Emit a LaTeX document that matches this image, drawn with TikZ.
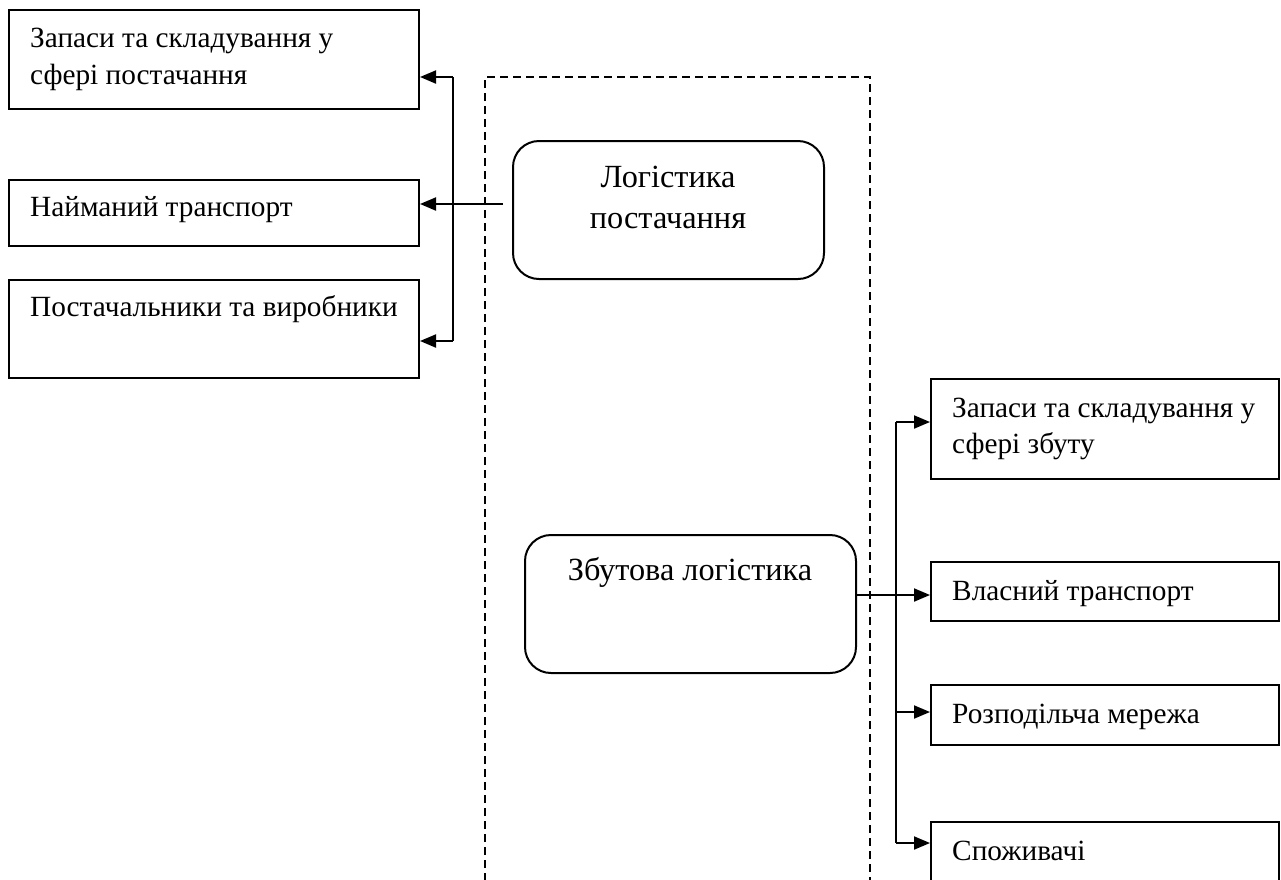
\documentclass[tikz,border=0pt]{standalone}
\usepackage{fontspec}
\setmainfont{Liberation Serif}
\usetikzlibrary{arrows.meta}
\tikzset{
  box/.style={draw, line width=2pt, inner sep=0pt, rectangle},
  rbox/.style={draw, line width=2pt, inner sep=0pt, rounded corners=26pt},
  conn/.style={line width=2pt},
  arr/.style={line width=2pt, -{Triangle[length=16pt,width=13pt]}},
  frame/.style={line width=1.5pt, dash pattern=on 8pt off 5pt},
  txt/.style={inner sep=0pt, font=\fontsize{29.3}{34}\selectfont},
  rtxt/.style={inner sep=0pt, font=\fontsize{32.3}{38}\selectfont}
}
\begin{document}
\begin{tikzpicture}[x=1pt,y=-1pt]
\useasboundingbox (0,0) rectangle (1281,879);
\clip (0,0) rectangle (1281,879);
% dashed frame
\draw[frame] (485,920) -- (485,77) -- (870,77) -- (870,920);
% left boxes
\node[box, minimum width=410pt, minimum height=99pt] (b1) at (214,59.5) {};
\node[box, minimum width=410pt, minimum height=66pt] (b2) at (214,213) {};
\node[box, minimum width=410pt, minimum height=98pt] (b3) at (214,329) {};
\node[txt, anchor=base west] (t1a) at (30,47) {Запаси та складування у};
\node[txt, anchor=base west] (t1b) at (30,84) {сфері постачання};
\node[txt, anchor=base west] (t2) at (30,216) {Найманий транспорт};
\node[txt, anchor=base west] (t3) at (30,316) {Постачальники та виробники};
% rounded boxes
\node[rbox, minimum width=311pt, minimum height=138pt] (L) at (668.5,210) {};
\node[rtxt, anchor=base] (tLa) at (668,187) {Логістика};
\node[rtxt, anchor=base] (tLb) at (668,228) {постачання};
\node[rbox, minimum width=331pt, minimum height=138pt] (Z) at (690.5,604) {};
\node[rtxt, anchor=base] (tZ) at (690,580) {Збутова логістика};
% right boxes
\node[box, minimum width=348pt, minimum height=100pt] (r1) at (1105,429) {};
\node[box, minimum width=348pt, minimum height=59pt] (r2) at (1105,591.5) {};
\node[box, minimum width=348pt, minimum height=60pt] (r3) at (1105,715) {};
\node[box, minimum width=348pt, minimum height=80pt] (r4) at (1105,862) {};
\node[txt, anchor=base west] (s1a) at (952,417) {Запаси та складування у};
\node[txt, anchor=base west] (s1b) at (952,453) {сфері збуту};
\node[txt, anchor=base west] (s2) at (952,600) {Власний транспорт};
\node[txt, anchor=base west] (s3) at (952,723) {Розподільча мережа};
\node[txt, anchor=base west] (s4) at (952,860) {Споживачі};
% left connectors
\coordinate (lv1) at (453,77);
\coordinate (lv3) at (453,341);
\coordinate (ls) at (503,204);
\draw[conn] (lv1) -- (lv3);
\draw[arr] (lv1) -- (lv1 -| b1.east);
\draw[arr] (lv3) -- (lv3 -| b3.east);
\draw[arr] (ls) -- (ls -| b2.east);
% right connectors
\coordinate (rv1) at (896,422);
\coordinate (rv2) at (896,595);
\coordinate (rv3) at (896,712);
\coordinate (rv4) at (896,843);
\draw[conn] (rv1) -- (rv4);
\draw[arr] (rv1) -- (rv1 -| r1.west);
\draw[arr] (Z.east |- rv2) -- (rv2 -| r2.west);
\draw[arr] (rv3) -- (rv3 -| r3.west);
\draw[arr] (rv4) -- (rv4 -| r4.west);
\end{tikzpicture}
\end{document}
